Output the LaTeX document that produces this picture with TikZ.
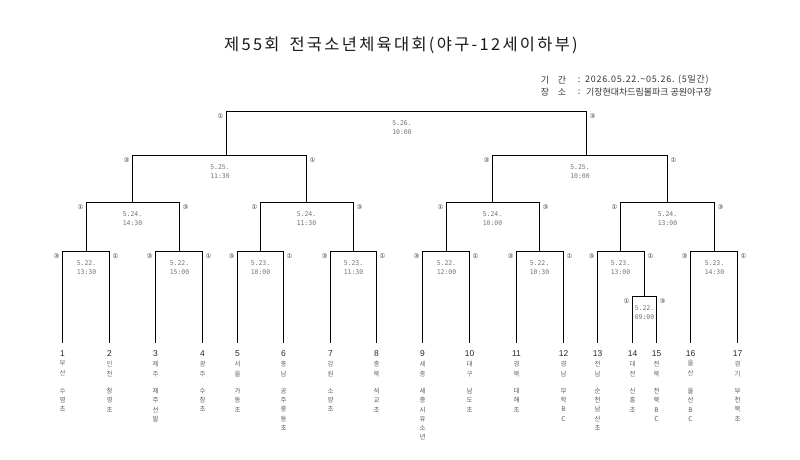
\documentclass[tikz,border=0pt]{standalone}
\usepackage{fontspec}
\setmainfont{Noto Sans CJK KR}
\newfontfamily\krfont{Noto Sans CJK KR}
\newfontfamily\krtitle[LetterSpace=14]{Noto Sans CJK KR}
\newfontfamily\krinfo[LetterSpace=8]{Noto Sans CJK KR}
\newfontfamily\circfont{DejaVu Sans}
\newfontfamily\datefont{DejaVu Sans Mono}
\newfontfamily\numfont{Liberation Sans}
\tikzset{
  bracket/.style={line width=1.7bp, draw=black},
  lab/.style={font=\circfont\fontsize{6.5}{7}\selectfont, text=black!80, inner sep=0pt},
  datelab/.style={font=\datefont\fontsize{6.5}{8.5}\selectfont, text=black!55, align=center, inner sep=0pt},
  tnum/.style={font=\numfont\fontsize{8.5}{9}\selectfont, text=black!85, inner sep=0pt},
  reg/.style={font=\krfont\fontsize{6.5}{10}\selectfont, text=black!60, align=center, inner sep=0pt, anchor=north},
  teamlab/.style={font=\krfont\fontsize{6.5}{9.3}\selectfont, text=black!65, align=center, inner sep=0pt, anchor=north},
  info/.style={font=\krfont\fontsize{9}{10}\selectfont, text=black!80, inner sep=0pt},
  titlelab/.style={font=\krtitle\fontsize{16.5}{18}\selectfont, text=black!90, inner sep=0pt}
}
\newcommand\mymatch[9]{%
  \coordinate (#1l) at (#2,#5);
  \coordinate (#1r) at (#3,#5);
  \node[lab] (#1ll) at ({#2-6},{#5+5}) {#6};
  \node[lab] (#1rl) at ({#3+6},{#5+5}) {#7};
  \node[datelab] (#1dt) at (#4,{#5+16}) {#8\\#9};
}
\begin{document}
\begin{tikzpicture}[x=1bp,y=-1bp]
\fill[white] (0,0) rectangle (800,460);
\useasboundingbox (0,0) rectangle (800,460);

\node[titlelab] (title) at (401,45) {제55회\hspace{10pt}전국소년체육대회(야구-12세이하부)};

\node[info] (ia1) at (545,80) {기};
\node[info] (ia2) at (562,80) {간};
\node[info] (ia3) at (579,80) {:};
\node[info, font=\krinfo\fontsize{9}{10}\selectfont, anchor=west] (ia4) at (585,80) {2026.05.22.\textasciitilde05.26. (5일간)};
\node[info] (ib1) at (545,92) {장};
\node[info] (ib2) at (562,92) {소};
\node[info] (ib3) at (579,92) {:};
\node[info, anchor=west] (ib4) at (586,92) {기장현대차드림볼파크 공원야구장};

\foreach \i/\x/\rg/\tm in {
  1/62.5/{부\\산}/{수\\영\\초},
  2/109.5/{인\\천}/{창\\영\\초},
  3/155.5/{제\\주}/{제\\주\\선\\발},
  4/202.5/{광\\주}/{수\\창\\초},
  5/237.5/{서\\울}/{가\\동\\초},
  6/283.5/{충\\남}/{공\\주\\중\\동\\초},
  7/330.5/{강\\원}/{소\\양\\초},
  8/376.5/{충\\북}/{석\\교\\초},
  9/422.5/{세\\종}/{세\\종\\시\\유\\소\\년},
  10/469.5/{대\\구}/{남\\도\\초},
  11/516.5/{경\\북}/{대\\해\\초},
  12/563.5/{경\\남}/{무\\학\\B\\C},
  13/597.5/{전\\남}/{순\\천\\남\\산\\초},
  14/632.5/{대\\전}/{신\\흥\\초},
  15/656.5/{전\\북}/{전\\북\\B\\C},
  16/690.5/{울\\산}/{울\\산\\B\\C},
  17/737.5/{경\\기}/{부\\천\\북\\초}}{
  \coordinate (t\i) at (\x,343);
  \node[tnum] (num\i) at (\x,353.5) {\i};
  \node[reg] (reg\i) at (\x,360.5) {\rg};
  \node[teamlab] (team\i) at (\x,388) {\tm};
}

\coordinate (q1d) at (86.5,251.5);
\coordinate (q2d) at (179.5,251.5);
\coordinate (q3d) at (260.5,251.5);
\coordinate (q4d) at (353.5,251.5);
\coordinate (q5d) at (446.5,251.5);
\coordinate (q6d) at (539.5,251.5);
\coordinate (q7d) at (620.5,251.5);
\coordinate (q8d) at (714.5,251.5);
\coordinate (pd) at (644.5,296.5);
\coordinate (s1d) at (132.5,202.5);
\coordinate (s2d) at (306.5,202.5);
\coordinate (s3d) at (492.5,202.5);
\coordinate (s4d) at (667.5,202.5);
\coordinate (h1d) at (226.5,155.5);
\coordinate (h2d) at (586.5,155.5);

\mymatch{f}{226.5}{586.5}{402}{111.5}{①}{③}{5.26.}{10:00}
\mymatch{h1}{132.5}{306.5}{220}{155.5}{③}{①}{5.25.}{11:30}
\mymatch{h2}{492.5}{667.5}{580}{155.5}{③}{①}{5.25.}{10:00}
\mymatch{s1}{86.5}{179.5}{132.5}{202.5}{①}{③}{5.24.}{14:30}
\mymatch{s2}{260.5}{353.5}{306.5}{202.5}{①}{③}{5.24.}{11:30}
\mymatch{s3}{446.5}{539.5}{492.5}{202.5}{①}{③}{5.24.}{10:00}
\mymatch{s4}{620.5}{714.5}{667.5}{202.5}{①}{③}{5.24.}{13:00}
\mymatch{q1}{62.5}{109.5}{86.5}{251.5}{③}{①}{5.22.}{13:30}
\mymatch{q2}{155.5}{202.5}{179.5}{251.5}{③}{①}{5.22.}{15:00}
\mymatch{q3}{237.5}{283.5}{260.5}{251.5}{③}{①}{5.23.}{10:00}
\mymatch{q4}{330.5}{376.5}{353.5}{251.5}{③}{①}{5.23.}{11:30}
\mymatch{q5}{422.5}{469.5}{446.5}{251.5}{③}{①}{5.22.}{12:00}
\mymatch{q6}{516.5}{563.5}{539.5}{251.5}{③}{①}{5.22.}{10:30}
\mymatch{q7}{597.5}{644.5}{620.5}{251.5}{③}{①}{5.23.}{13:00}
\mymatch{q8}{690.5}{737.5}{714.5}{251.5}{③}{①}{5.23.}{14:30}
\mymatch{p}{632.5}{656.5}{644.5}{296.5}{①}{③}{5.22.}{09:00}

\draw[bracket] (t1) -- (q1l) -- (q1r) -- (t2);
\draw[bracket] (t3) -- (q2l) -- (q2r) -- (t4);
\draw[bracket] (t5) -- (q3l) -- (q3r) -- (t6);
\draw[bracket] (t7) -- (q4l) -- (q4r) -- (t8);
\draw[bracket] (t9) -- (q5l) -- (q5r) -- (t10);
\draw[bracket] (t11) -- (q6l) -- (q6r) -- (t12);
\draw[bracket] (t13) -- (q7l) -- (q7r) -- (pd);
\draw[bracket] (t14) -- (pl) -- (pr) -- (t15);
\draw[bracket] (t16) -- (q8l) -- (q8r) -- (t17);
\draw[bracket] (q1d) -- (s1l) -- (s1r) -- (q2d);
\draw[bracket] (q3d) -- (s2l) -- (s2r) -- (q4d);
\draw[bracket] (q5d) -- (s3l) -- (s3r) -- (q6d);
\draw[bracket] (q7d) -- (s4l) -- (s4r) -- (q8d);
\draw[bracket] (s1d) -- (h1l) -- (h1r) -- (s2d);
\draw[bracket] (s3d) -- (h2l) -- (h2r) -- (s4d);
\draw[bracket] (h1d) -- (fl) -- (fr) -- (h2d);
\end{tikzpicture}
\end{document}
